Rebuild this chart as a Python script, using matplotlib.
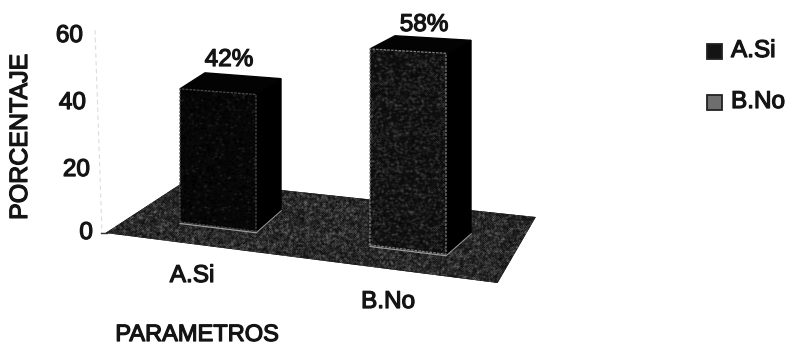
import numpy as np
import matplotlib
matplotlib.use("Agg")
import matplotlib.pyplot as plt
import matplotlib.patheffects as pe
from matplotlib.patches import Polygon, Rectangle

categories = ["A.Si", "B.No"]
values = [42, 58]
value_labels = ["42%", "58%"]
y_ticks = [0, 20, 40, 60]
x_title = "PARAMETROS"
y_title = "PORCENTAJE"

plt.rcParams["font.family"] = ["Liberation Sans", "DejaVu Sans"]
W, H = 789, 348
fig = plt.figure(figsize=(W / 100, H / 100), dpi=100)
ax = fig.add_axes([0, 0, 1, 1])
ax.set_xlim(0, W)
ax.set_ylim(H, 0)
ax.axis("off")

INK = "#141414"
heavy = [pe.withStroke(linewidth=0.9, foreground=INK)]


def label(x, y, s, size=17.5, **kw):
    t = ax.text(x, y, s, ha=kw.pop("ha", "center"), va="center", fontsize=size, color=INK, zorder=6, **kw)
    t.set_path_effects(heavy)
    return t


def project(c, d, z=0.0):
    """Oblique projection with slight foreshortening of height with depth."""
    scale = (3.17 + 0.21 * c) * (1 - 0.045 * d)
    return (180 + 190 * c + 25 * d, 222 + 23 * c - 22 * d - scale * z)


rng = np.random.default_rng(3)


def textured(points, base, spread, speck, zorder):
    poly = Polygon(points, closed=True, facecolor=(base,) * 3, edgecolor="none", zorder=zorder)
    ax.add_patch(poly)
    pts = np.array(points)
    x0, x1, y0, y1 = pts[:, 0].min(), pts[:, 0].max(), pts[:, 1].min(), pts[:, 1].max()
    h, w = int(y1 - y0) + 1, int(x1 - x0) + 1
    tex = base + rng.normal(0, spread, (h, w))
    tex = np.where(rng.random((h, w)) < speck, tex + 0.30, tex)
    tex = (tex + np.roll(tex, 1, 0) + np.roll(tex, -1, 0) + np.roll(tex, 1, 1) + np.roll(tex, -1, 1)) / 5
    im = ax.imshow(np.clip(tex, 0, 1), cmap="gray", vmin=0, vmax=1, extent=(x0, x1, y1, y0),
                   zorder=zorder + 0.1, interpolation="bilinear", aspect="auto")
    im.set_clip_path(poly)
    ax.set_xlim(0, W)
    ax.set_ylim(H, 0)


# floor
floor = [project(-0.287, -0.80), project(1.79, -0.90), project(1.62, 1.92), project(-0.19, 1.71)]
textured(floor, 0.11, 0.05, 0.20, 1)

# faint value axis with the small dash at its foot
ax.plot([95, 102], [30, 233], color="#dcdcdc", lw=0.8, ls=(0, (4, 3)), zorder=0.5)
ax.plot([101, 107], [233, 233], color="#333333", lw=1.0, zorder=0.6)

# bars
bar_w, bar_d = 0.40, 1.0
front_base = [0.03, 0.06]
front_speck = [0.015, 0.12]
edge_color = ["#4a4a4a", "#7d7d7d"]
value_label_xy = [(229, 60), (424, 25)]
cat_label_xy = [(192, 276), (388, 302)]
for i, (cat, val, lab) in enumerate(zip(categories, values, value_labels)):
    fl, fr = project(i, 0), project(i + bar_w, 0)
    br = project(i + bar_w, bar_d)
    fl_t, fr_t = project(i, 0, val), project(i + bar_w, 0, val)
    bl_t, br_t = project(i, bar_d, val), project(i + bar_w, bar_d, val)
    ax.add_patch(Polygon([fr, br, br_t, fr_t], closed=True, fc="#000000", ec="#000000", zorder=3))
    ax.add_patch(Polygon([fl_t, fr_t, br_t, bl_t], closed=True, fc="#030303", ec="#030303", zorder=3))
    front = [fl, fr, fr_t, fl_t]
    textured(front, front_base[i], 0.025, front_speck[i], 4)
    ax.add_patch(Polygon(front, closed=True, fc="none", ec=edge_color[i], lw=0.9, ls=(0, (2, 1)), zorder=5))
    # bright rim of the base on the floor
    ax.plot([fl[0], fr[0], br[0]], [fl[1] + 1.5, fr[1] + 1.5, br[1] + 1.5], color="#9a9a9a", lw=0.9, zorder=2.5)
    label(*value_label_xy[i], lab)
    label(*cat_label_xy[i], cat)

# value axis labels
tick_y = {0: 233, 20: 170, 40: 103, 60: 36}
tick_x = {0: 93, 20: 90, 40: 86, 60: 83}
for t in y_ticks:
    label(tick_x[t], tick_y[t], str(t), ha="right")

label(20, 137, y_title, size=18, rotation=90)
label(197, 335, x_title, size=17)

# legend
legend_faces = ["#141414", "#6e6e6e"]
for cat, face, y in zip(categories, legend_faces, [51, 102]):
    ax.add_patch(Rectangle((707.5, y - 7.5), 15, 15, fc=face, ec="#222222", lw=1.3))
    label(731, y, cat, ha="left")

fig.savefig("out.png", dpi=100)
